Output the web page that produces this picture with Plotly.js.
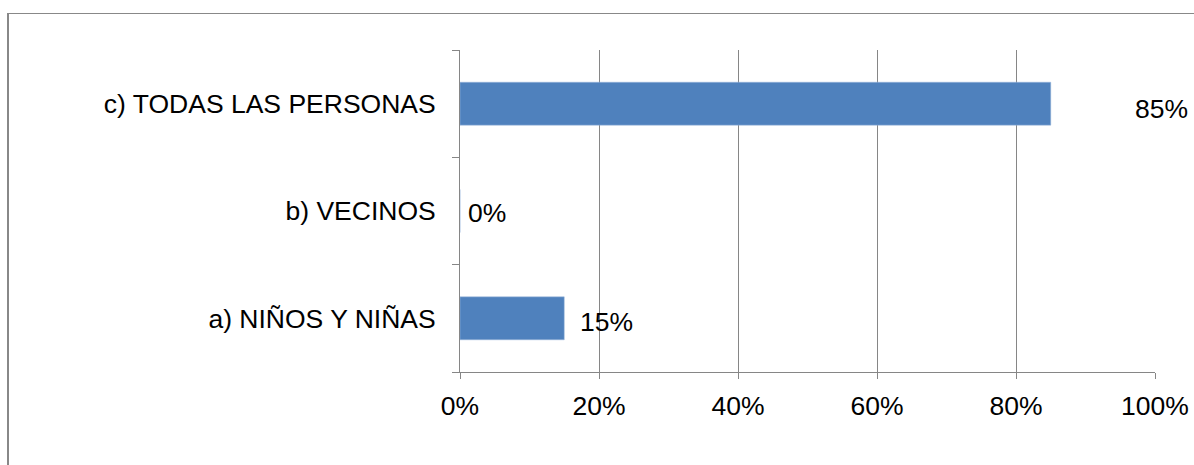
<!DOCTYPE html>
<html>
<head>
<meta charset="utf-8">
<script src="https://cdn.plot.ly/plotly-3.0.1.min.js"></script>
<style>
html,body{margin:0;padding:0;background:#fff;}
#wrap{position:relative;width:1194px;height:465px;overflow:hidden;}
#chart{width:1194px;height:465px;}
#frame{position:absolute;left:7px;top:13px;width:1300px;height:600px;border-left:2px solid #888;border-top:1px solid #888;pointer-events:none;}
</style>
</head>
<body>
<div id="wrap">
<div id="chart"></div>
<div id="frame"></div>
</div>
<script>
const categories = ["a) NIÑOS Y NIÑAS", "b) VECINOS", "c) TODAS LAS PERSONAS"];
const values = [0.15, 0, 0.85];
const labelShift = [14, 6, 82];
const labelYShift = [-4, -2, -5];
const xTicks = [0, 0.2, 0.4, 0.6, 0.8, 1.0];

const font = {family: "Liberation Sans, Arial, sans-serif", size: 26.5, color: "#000"};

const trace = {
  type: "bar",
  orientation: "h",
  y: categories,
  x: values,
  width: 0.4,
  marker: {color: "#4F81BD", line: {color: "#9DB9DD", width: 0.5}},
  hoverinfo: "skip"
};

const annotations = categories.map((c, i) => ({
  x: values[i], y: c, xref: "x", yref: "y",
  text: Math.round(values[i] * 100) + "%",
  showarrow: false, xanchor: "left", yanchor: "middle",
  xshift: labelShift[i], yshift: labelYShift[i],
  font: font
}));

const layout = {
  width: 1194, height: 465,
  margin: {l: 460, r: 39, t: 50, b: 93},
  paper_bgcolor: "#fff", plot_bgcolor: "#fff",
  showlegend: false,
  font: font,
  xaxis: {
    range: [0, 1], tickvals: xTicks, tickformat: ".0%",
    showgrid: true, gridcolor: "#868686", gridwidth: 1,
    zeroline: false, showline: true, linecolor: "#868686", linewidth: 1,
    ticks: "outside", ticklen: 6, tickcolor: "#868686",
    tickfont: font, ticklabelstandoff: 4, fixedrange: true
  },
  yaxis: {
    type: "category", categoryorder: "array", categoryarray: categories,
    showgrid: false, zeroline: false, showline: true, linecolor: "#868686", linewidth: 1,
    ticks: "outside", tickson: "boundaries", ticklen: 7, tickcolor: "#868686",
    tickfont: font, ticklabelstandoff: 18, fixedrange: true
  },
  annotations: annotations
};

Plotly.newPlot("chart", [trace], layout, {displayModeBar: false, staticPlot: true});
</script>
</body>
</html>
